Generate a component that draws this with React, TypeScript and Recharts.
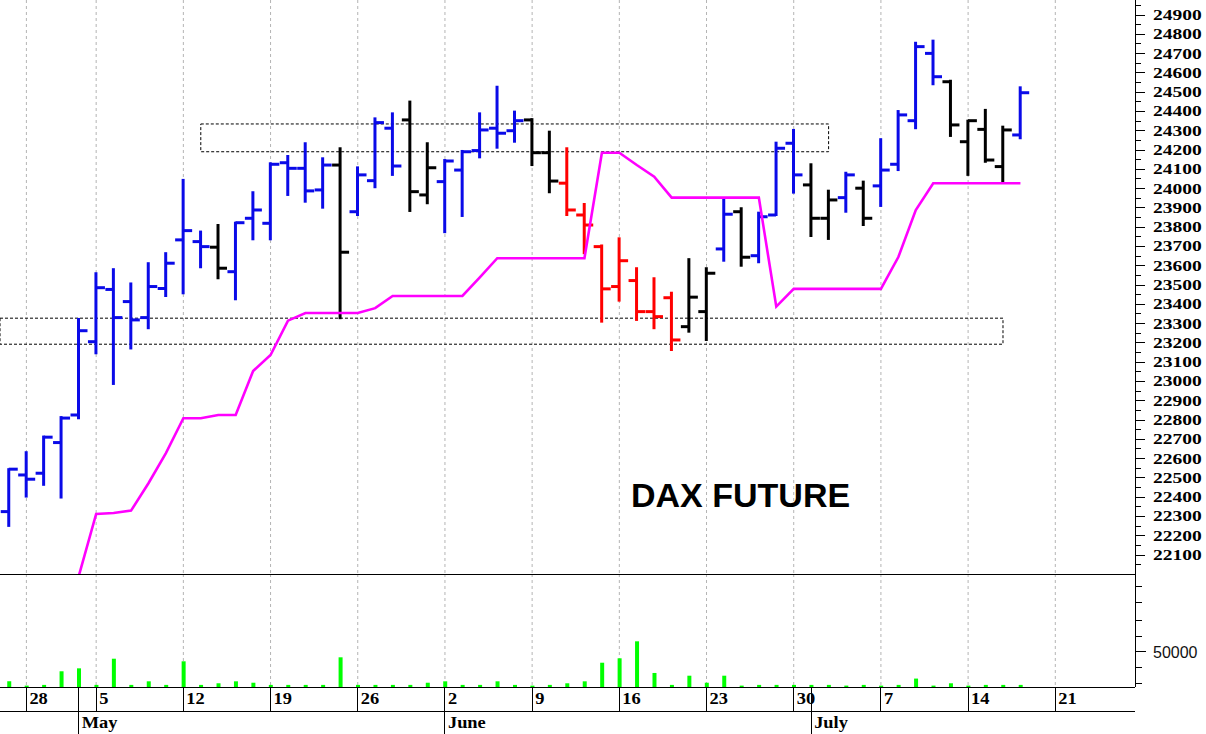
import { Bar, CartesianGrid, ComposedChart, Line, ReferenceArea, ReferenceLine, XAxis, YAxis } from "recharts";

// trading days shown (Apr 25 .. Jul 17); index in this list is the x position
const dates = [
  "Apr 25",
  "Apr 28", "Apr 29", "Apr 30", "May 2",
  "May 5", "May 6", "May 7", "May 8", "May 9",
  "May 12", "May 13", "May 14", "May 15", "May 16",
  "May 19", "May 20", "May 21", "May 22", "May 23",
  "May 26", "May 27", "May 28", "May 29", "May 30",
  "Jun 2", "Jun 3", "Jun 4", "Jun 5", "Jun 6",
  "Jun 9", "Jun 10", "Jun 11", "Jun 12", "Jun 13",
  "Jun 16", "Jun 17", "Jun 18", "Jun 19", "Jun 20",
  "Jun 23", "Jun 24", "Jun 25", "Jun 26", "Jun 27",
  "Jun 30", "Jul 1", "Jul 2", "Jul 3", "Jul 4",
  "Jul 7", "Jul 8", "Jul 9", "Jul 10", "Jul 11",
  "Jul 14", "Jul 15", "Jul 16", "Jul 17",
];

const opens = [
  22325,
  22515, 22524, 22683, 22826,
  23206, 23477, 23414, 23331, 23482,
  23734, 23725, 23696, 23569, 23846,
  23820, 24134, 24105, 23993, 24122,
  23880, 24041, 24313, 24356, 23967,
  24036, 24096, 24197, 24313, 24300,
  24356, 24186, 24028, 23863, 23699,
  23492, 23523, 23362, 23434, 23284,
  23362, 23687, 23880, 23652, 23863,
  24235, 24019, 23846, 23953, 24002,
  24014, 24126, 24352, 24701, 24554,
  24243, 24307, 24114, 24278,
];
const highs = [
  22545,
  22633, 22714, 22815, 23324,
  23561, 23582, 23508, 23613, 23665,
  24045, 23777, 23811, 23823, 23981,
  24131, 24169, 24235, 24157, 24209,
  24110, 24364, 24390, 24451, 24235,
  24148, 24195, 24390, 24528, 24399,
  24360, 24295, 24209, 23920, 23705,
  23742, 23587, 23535, 23460, 23634,
  23587, 23946, 23898, 23875, 24238,
  24304, 24126, 23989, 24082, 24036,
  24256, 24402, 24756, 24767, 24559,
  24352, 24408, 24321, 24525,
];
const lows = [
  22251,
  22403, 22464, 22398, 22809,
  23146, 22987, 23171, 23276, 23443,
  23457, 23592, 23535, 23426, 23737,
  23737, 23967, 23932, 23901, 23328,
  23863, 24007, 24071, 23884, 23924,
  23774, 23858, 24162, 24212, 24243,
  24122, 23981, 23863, 23665, 23310,
  23419, 23319, 23276, 23163, 23258,
  23215, 23626, 23600, 23618, 23863,
  23979, 23754, 23739, 23880, 23811,
  23910, 24096, 24313, 24541, 24273,
  24071, 24139, 24036, 24261,
];
const closes = [
  22545,
  22493, 22711, 22810, 23263,
  23486, 23331, 23319, 23492, 23613,
  23782, 23699, 23587, 23823, 23889,
  24126, 24105, 23988, 24122, 23670,
  24071, 24342, 24117, 23984, 24108,
  24143, 24191, 24304, 24287, 24352,
  24186, 24039, 23889, 23811, 23480,
  23626, 23362, 23336, 23215, 23437,
  23561, 23867, 23644, 23854, 24209,
  24071, 23846, 23941, 24071, 23846,
  24096, 24382, 24736, 24580, 24330,
  24352, 24148, 24304, 24497,
];
// bar colour per day: b = blue, k = black, r = red
const trend = (
  "b" + "bbbb" + "bbbbb" + "bbkbb" + "bbbbk" + "bbbkk" + "bbbbb" + "kkrrr" +
  "rrrrk" + "kbkbb" + "bkkbk" + "bbbbk" + "kkkb"
).split("");
// magenta trailing line
const stopLine = [
  null,
  null, null, null, 21990,
  22313, 22318, 22330, 22472, 22628,
  22809, 22809, 22826, 22826, 23054,
  23137, 23315, 23355, 23355, 23355,
  23355, 23380, 23443, 23443, 23443,
  23443, 23443, 23540, 23639, 23639,
  23639, 23639, 23639, 23639, 24186,
  24186, 24122, 24062, 23953, 23953,
  23953, 23953, 23953, 23953, 23388,
  23480, 23480, 23480, 23480, 23480,
  23480, 23645, 23889, 24028, 24028,
  24028, 24028, 24028, 24028,
];
const volumes = [
  8100,
  2000, 3000, 22400, 26600,
  3000, 40300, 3000, 8100, 3000,
  36600, 3000, 5300, 8100, 6100,
  3000, 3000, 3000, 3000, 42300,
  3000, 3000, 3000, 3000, 6100,
  8100, 3000, 3000, 8100, 3000,
  2000, 3000, 5300, 8100, 34600,
  40900, 65100, 20000, 3000, 16100,
  6100, 16100, 2000, 3000, 3000,
  3000, 3000, 3000, 2000, 3000,
  2000, 3000, 12000, 2000, 5300,
  2000, 3000, 3000, 3000,
];

// axis ticks
const weekTicks = [1, 5, 10, 15, 20, 25, 30, 35, 40, 45, 50, 55, 60];
const weekLabels = ["28", "5", "12", "19", "26", "2", "9", "16", "23", "30", "7", "14", "21"];
const monthTicks = [4, 25, 46];
const monthLabels = ["May", "June", "July"];
const priceTicks = Array.from({ length: 60 }, (_, k) => 22000 + k * 50);
const volTicks = [5000, 27500, 50000, 72500, 95000, 120000, 142500];

// resistance / support boxes
const upperBox = { x1: 11, x2: 47, y1: 24191, y2: 24335 };
const lowerBox = { x1: -0.514, x2: 57, y1: 23193, y2: 23328 };

const X_MIN = -0.514;
const X_MAX = 64.57;
const P_MIN = 22001.5;
const P_MAX = 24977.8;
const V_MAX = 161000;

const COLORS: Record<string, string> = { b: "#0a0ae8", k: "#000000", r: "#ff0000" };
const SERIF = "'Liberation Serif', 'Times New Roman', serif";
const SANS = "'Liberation Sans', Arial, sans-serif";
const AXIS_LINE = { stroke: "#000", shapeRendering: "crispEdges" };

const rows = dates.map((date, i) => ({
  i,
  date,
  open: opens[i],
  high: highs[i],
  low: lows[i],
  close: closes[i],
  range: [lows[i], highs[i]],
  trend: trend[i],
  stop: stopLine[i],
  vol: volumes[i],
}));

// vertical grid at the week starts, placed with the x axis scale
const weekGrid = ({ xAxis, offset }: any) =>
  weekTicks.map((t) =>
    typeof xAxis?.scale === "function"
      ? xAxis.scale(t)
      : offset.left + ((t - X_MIN) / (X_MAX - X_MIN)) * offset.width
  );

function OhlcShape(props: any) {
  const { x, y, width, height, payload } = props;
  if (x == null || y == null) return null;
  const cx = x + width / 2;
  const span = payload.high - payload.low || 1;
  const at = (v: number) => y + ((payload.high - v) / span) * height;
  const yo = at(payload.open);
  const yc = at(payload.close);
  return (
    <g stroke={COLORS[payload.trend]} strokeWidth={3}>
      <line x1={cx} x2={cx} y1={y - 1} y2={y + height + 1} />
      <line x1={cx - 8} x2={cx} y1={yo} y2={yo} />
      <line x1={cx} x2={cx + 9} y1={yc} y2={yc} />
    </g>
  );
}

function PriceTick({ x, y, payload }: any) {
  const v = payload.value;
  const major = v % 100 === 0;
  const show = major && v >= 22100 && v <= 24900;
  return (
    <g>
      <line x1={x} x2={x + (major ? 10 : 6)} y1={y} y2={y} stroke="#000" shapeRendering="crispEdges" />
      {show && (
        <text transform={`translate(${x + 18},${y + 5}) scale(1.3,1)`} fontFamily={SERIF} fontWeight="bold" fontSize={15} fill="#000">
          {v}
        </text>
      )}
    </g>
  );
}

function VolTick({ x, y, payload }: any) {
  const v = payload.value;
  const major = v === 50000;
  return (
    <g>
      <line x1={x} x2={x + (major ? 11 : 7)} y1={y} y2={y} stroke="#000" shapeRendering="crispEdges" />
      {major && (
        <text x={x + 18} y={y + 6} fontFamily={SANS} fontSize={16} fill="#111">
          {v}
        </text>
      )}
    </g>
  );
}

function DayTick({ x, y, payload }: any) {
  const label = weekLabels[weekTicks.indexOf(payload.value)];
  return (
    <g>
      <line x1={x} x2={x} y1={y} y2={y + 24} stroke="#000" shapeRendering="crispEdges" />
      <text transform={`translate(${x + 3},${y + 17}) scale(1.15,1)`} fontFamily={SERIF} fontWeight="bold" fontSize={16} fill="#000">
        {label}
      </text>
    </g>
  );
}

function MonthTick({ x, y, payload }: any) {
  const label = monthLabels[monthTicks.indexOf(payload.value)];
  return (
    <g>
      <line x1={x} x2={x} y1={y - 24} y2={y + 23} stroke="#000" shapeRendering="crispEdges" />
      <text transform={`translate(${x + 3},${y + 17}) scale(1.15,1)`} fontFamily={SERIF} fontWeight="bold" fontSize={16} fill="#000">
        {label}
      </text>
    </g>
  );
}

export default function App() {
  return (
    <div style={{ position: "absolute", left: 0, top: 0, width: 1206, height: 734, background: "#fff", overflow: "hidden" }}>
      <div style={{ position: "absolute", left: 0, top: 0 }}>
        <ComposedChart width={1206} height={574} data={rows} margin={{ top: 0, right: 0, bottom: 0, left: 0 }}>
          <CartesianGrid horizontal={false} stroke="#b4b4b4" strokeDasharray="3 3" verticalCoordinatesGenerator={weekGrid} />
          <XAxis dataKey="i" type="number" domain={[X_MIN, X_MAX]} allowDataOverflow hide />
          <YAxis
            orientation="right"
            width={71}
            type="number"
            domain={[P_MIN, P_MAX]}
            allowDataOverflow
            ticks={priceTicks}
            interval={0}
            tickLine={false}
            tickSize={0}
            tickMargin={0}
            axisLine={AXIS_LINE}
            tick={<PriceTick />}
          />
          <ReferenceArea {...upperBox} fill="none" stroke="#000" strokeDasharray="3 2" />
          <ReferenceArea {...lowerBox} fill="none" stroke="#000" strokeDasharray="3 2" />
          <Bar dataKey="range" barSize={17} shape={<OhlcShape />} isAnimationActive={false} />
          <Line dataKey="stop" type="linear" stroke="#ff00ff" strokeWidth={2.6} dot={false} connectNulls={false} isAnimationActive={false} />
        </ComposedChart>
      </div>
      <div style={{ position: "absolute", left: 631, top: 478, fontFamily: SANS, fontWeight: "bold", fontSize: 34, lineHeight: 1, color: "#000" }}>
        DAX FUTURE
      </div>
      <div style={{ position: "absolute", left: 0, top: 574 }}>
        <ComposedChart width={1206} height={160} data={rows} margin={{ top: 0, right: 0, bottom: 0, left: 0 }}>
          <CartesianGrid xAxisId="d" horizontal={false} stroke="#b4b4b4" strokeDasharray="3 3" verticalCoordinatesGenerator={weekGrid} />
          <XAxis
            xAxisId="d"
            dataKey="i"
            type="number"
            domain={[X_MIN, X_MAX]}
            allowDataOverflow
            ticks={weekTicks}
            interval={0}
            height={24}
            tickLine={false}
            tickSize={0}
            tickMargin={0}
            axisLine={AXIS_LINE}
            tick={<DayTick />}
          />
          <XAxis
            xAxisId="m"
            dataKey="i"
            type="number"
            domain={[X_MIN, X_MAX]}
            allowDataOverflow
            ticks={monthTicks}
            interval={0}
            height={23}
            tickLine={false}
            tickSize={0}
            tickMargin={0}
            axisLine={AXIS_LINE}
            tick={<MonthTick />}
          />
          <YAxis
            orientation="right"
            width={71}
            type="number"
            domain={[0, V_MAX]}
            allowDataOverflow
            ticks={volTicks}
            interval={0}
            tickLine={false}
            tickSize={0}
            tickMargin={0}
            axisLine={AXIS_LINE}
            tick={<VolTick />}
          />
          <ReferenceLine xAxisId="d" y={V_MAX} stroke="#000" shapeRendering="crispEdges" />
          <Bar xAxisId="d" dataKey="vol" barSize={4} fill="#00ff00" isAnimationActive={false} />
        </ComposedChart>
      </div>
    </div>
  );
}
